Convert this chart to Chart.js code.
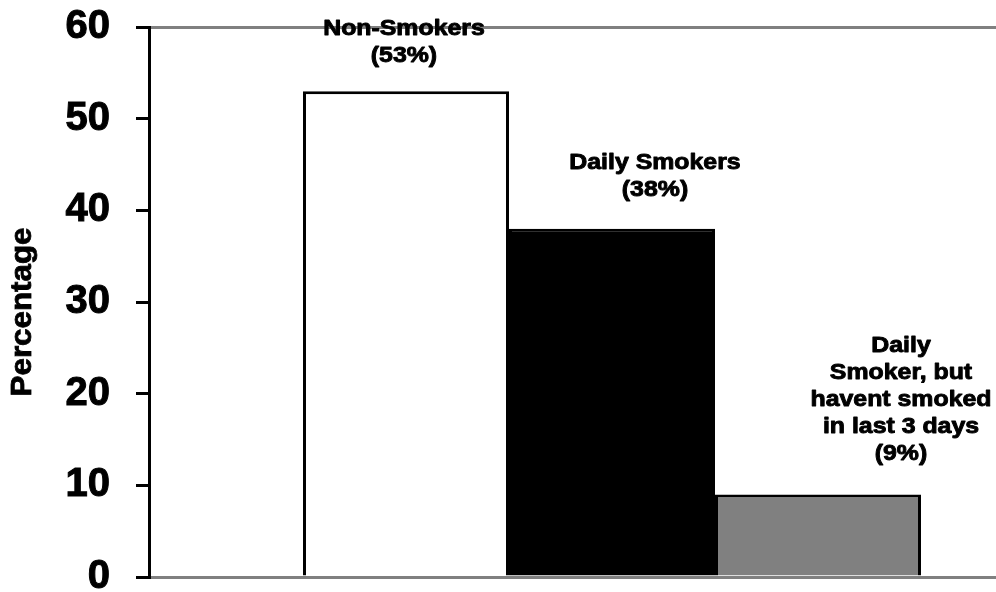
<!DOCTYPE html>
<html>
<head>
<meta charset="utf-8">
<script src="https://cdn.jsdelivr.net/npm/chart.js@4.4.1/dist/chart.umd.min.js"></script>
<style>
  html, body { margin: 0; padding: 0; background: #ffffff; overflow: hidden; }
  #wrap { position: relative; width: 1075px; height: 592px; }
</style>
</head>
<body>
<div id="wrap"><canvas id="chart"></canvas></div>
<script>
// Smoking status of respondents, share of each group in percent
const categories = ['Non-Smokers', 'Daily Smokers', 'Daily Smoker, but havent smoked in last 3 days'];
const percentages = [53, 38, 9];
const labelLines = [
  ['Non-Smokers'],
  ['Daily Smokers'],
  ['Daily', 'Smoker, but', 'havent smoked', 'in last 3 days']
];
const yTickValues = [0, 10, 20, 30, 40, 50, 60];
const yAxisTitle = 'Percentage';

// Styling per bar
const barFills = ['#ffffff', '#000000', '#808080'];
const labelShiftX = [-2, 43, 83];
const labelGap = [29, 33, 35];

const FONT = '"Liberation Sans", Arial, Helvetica, sans-serif';

// Writes each group's name and share above its bar
const barLabels = {
  id: 'barLabels',
  afterDatasetsDraw(chart) {
    const ctx = chart.ctx;
    ctx.save();
    ctx.fillStyle = '#000000';
    ctx.strokeStyle = '#000000';
    ctx.lineWidth = 0.9;
    ctx.lineJoin = 'round';
    ctx.font = 'bold 22px ' + FONT;
    ctx.textAlign = 'center';
    ctx.textBaseline = 'alphabetic';
    const lineHeight = 27;
    chart.data.datasets.forEach((ds, i) => {
      const bar = chart.getDatasetMeta(i).data[0];
      if (!bar) return;
      const lines = labelLines[i].concat('(' + percentages[i] + '%)');
      const cx = bar.x + labelShiftX[i];
      const lastBase = bar.y - labelGap[i];
      lines.forEach((t, k) => {
        const y = lastBase - (lines.length - 1 - k) * lineHeight;
        ctx.save();
        ctx.translate(cx, y);
        ctx.scale(1.13, 1);
        ctx.strokeText(t, 0, 0);
        ctx.fillText(t, 0, 0);
        ctx.restore();
      });
    });
    ctx.restore();
  }
};

// Vertical title beside the value axis
const axisTitle = {
  id: 'axisTitle',
  afterDraw(chart) {
    const { ctx, chartArea } = chart;
    ctx.save();
    ctx.translate(23, (chartArea.top + chartArea.bottom) / 2 + 10);
    ctx.rotate(-Math.PI / 2);
    ctx.font = 'bold 29px ' + FONT;
    ctx.fillStyle = '#000000';
    ctx.strokeStyle = '#000000';
    ctx.lineWidth = 0.8;
    ctx.textAlign = 'center';
    ctx.textBaseline = 'middle';
    ctx.scale(1.08, 1);
    ctx.strokeText(yAxisTitle, 0, 0);
    ctx.fillText(yAxisTitle, 0, 0);
    ctx.restore();
  }
};

new Chart(document.getElementById('chart'), {
  type: 'bar',
  data: {
    labels: [''],
    datasets: categories.map((name, i) => ({
      label: name,
      data: [percentages[i]],
      backgroundColor: barFills[i],
      borderColor: '#000000',
      borderWidth: 3,
      borderSkipped: 'bottom'
    }))
  },
  options: {
    responsive: true,
    maintainAspectRatio: false,
    animation: false,
    events: [],
    layout: { padding: { top: 27, bottom: 15, left: 0, right: 0 } },
    datasets: { bar: { categoryPercentage: 0.6674, barPercentage: 1 } },
    plugins: { legend: { display: false }, tooltip: { enabled: false } },
    scales: {
      x: {
        type: 'category',
        position: 'bottom',
        ticks: { display: false },
        grid: { display: false },
        border: { display: true, color: '#808080', width: 3 },
        afterFit(s) { s.height = 0; s.paddingLeft = 0; s.paddingRight = 0; }
      },
      xTop: {
        type: 'category',
        position: 'top',
        labels: [''],
        ticks: { display: false },
        grid: { display: false },
        border: { display: true, color: '#808080', width: 3 },
        afterFit(s) { s.height = 0; s.paddingLeft = 0; s.paddingRight = 0; }
      },
      y: {
        min: yTickValues[0],
        max: yTickValues[yTickValues.length - 1],
        afterBuildTicks(s) { s.ticks = yTickValues.map(v => ({ value: v })); },
        ticks: {
          color: '#000000',
          font: { family: FONT, size: 40, weight: 'bold' },
          textStrokeColor: '#000000',
          textStrokeWidth: 1,
          padding: 26
        },
        grid: {
          display: true,
          drawOnChartArea: false,
          drawTicks: true,
          tickLength: 13,
          color: '#000000',
          lineWidth: 3
        },
        border: { display: true, color: '#000000', width: 3 },
        title: { display: false },
        afterFit(s) { s.width = 149; s.paddingTop = 0; s.paddingBottom = 0; }
      }
    }
  },
  plugins: [barLabels, axisTitle]
});
</script>
</body>
</html>
